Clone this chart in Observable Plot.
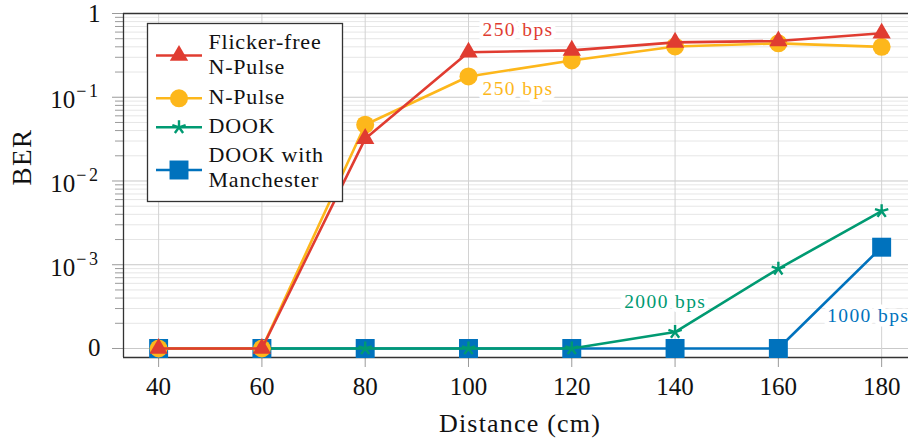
<!DOCTYPE html>
<html><head><meta charset="utf-8">
<script src="https://cdn.jsdelivr.net/npm/d3@7"></script>
<script src="https://cdn.jsdelivr.net/npm/@observablehq/plot@0.6"></script>
<style>
body{margin:0;background:#fff}
#wrap{position:relative;width:908px;height:444px;overflow:hidden}
#legend{position:absolute;left:0;top:0;pointer-events:none}
svg text{font-family:"Liberation Serif","Times New Roman",serif}
</style></head><body><div id="wrap"></div>
<script>
// ---- data ----
const distance = [40, 60, 80, 100, 120, 140, 160, 180];
const seriesNames = ["Flicker-free N-Pulse", "N-Pulse", "DOOK", "DOOK with Manchester"];
const berFlickerFree = [0, 0, 0.032, 0.345, 0.363, 0.452, 0.47, 0.58];
const berNPulse = [0, 0, 0.047, 0.177, 0.275, 0.404, 0.44, 0.40];
const berDOOK = [0, 0, 0, 0, 0, 1.57e-4, 8.95e-4, 4.36e-3];
const berDOOKManchester = [0, 0, 0, 0, 0, 0, 0, 1.62e-3];
const xTicks = [40, 60, 80, 100, 120, 140, 160, 180];
const yTicks = [1e-4, 1e-3, 1e-2, 1e-1, 1];
const yTickLabels = ["0", "10^-3", "10^-2", "10^-1", "1"];
const minorDecades = [1e-4, 1e-3, 1e-2, 1e-1];
const minorMultipliers = [2, 3, 4, 5, 6, 7, 8, 9];
const annoText = ["250 bps", "250 bps", "2000 bps", "1000 bps"];
const annoSeries = [0, 1, 2, 3];
const annoX = [109.6, 109.6, 138.1, 177.4];
const annoY = [0.546, 0.107, 3.06e-4, 2.06e-4];
const ZERO = 1e-4; // BER = 0 is drawn at this position of the log axis

// ---- styles ----
const seriesColors = ["#e03c31", "#fdb71b", "#009a72", "#0072bd"];
const FONT = "Liberation Serif";

const star5 = {
  draw(ctx, size) {
    const r = Math.sqrt(size / Math.PI);
    for (let i = 0; i < 5; i++) {
      const a = 2 * Math.PI * i / 5;
      ctx.moveTo(0, 0);
      ctx.lineTo(r * Math.sin(a), -r * Math.cos(a));
    }
  }
};
const symbols = ["triangle", "circle", star5, "square"];
const symR = [6.8, 9, 7, 10.7];

const allSeries = [berFlickerFree, berNPulse, berDOOK, berDOOKManchester];
const rows = allSeries.map((vals, s) =>
  distance.map((d, i) => ({distance: d, ber: vals[i], pos: vals[i] === 0 ? ZERO : vals[i], s})));
const minorTicks = minorDecades.flatMap(d => minorMultipliers.map(m => m * d));
const annos = annoText.map((t, i) => ({text: t, x: annoX[i], y: annoY[i], s: annoSeries[i]}));

const xDomain = [33.2, 185.2];
const yDomain = [Math.pow(10, -4.1075), 1];

const drawOrder = [3, 2, 1, 0];
const seriesMarks = drawOrder.flatMap(s => [
  Plot.line(rows[s], {x: "distance", y: "pos", stroke: seriesColors[s], strokeWidth: 2.6, strokeLinejoin: "round"}),
  s === 2
    ? Plot.dot(rows[s], {x: "distance", y: "pos", symbol: symbols[s], r: symR[s], fill: "none", stroke: seriesColors[s], strokeWidth: 2.4})
    : Plot.dot(rows[s], {x: "distance", y: "pos", symbol: symbols[s], r: symR[s], fill: seriesColors[s], stroke: "none"})
]);

const fmtY = v => yTickLabels[yTicks.findIndex(t => Math.abs(t - v) / t < 1e-6)];

const chart = Plot.plot({
  width: 908, height: 444,
  marginLeft: 123, marginRight: 0, marginTop: 13, marginBottom: 87,
  style: {fontFamily: FONT, fontSize: "22px", background: "white", color: "#111", overflow: "visible"},
  x: {type: "linear", domain: xDomain},
  y: {type: "log", domain: yDomain},
  marks: [
    Plot.gridY(minorTicks, {stroke: "#e6e6e6", strokeOpacity: 1}),
    Plot.gridY(yTicks, {stroke: "#c9c9c9", strokeOpacity: 1}),
    Plot.gridX(xTicks, {stroke: "#d2d2d2", strokeOpacity: 1}),
    Plot.axisY(minorTicks, {tickSize: 8, tickFormat: () => "", stroke: "#9a9a9a"}),
    Plot.axisY(yTicks, {tickSize: 11, tickPadding: 12, tickFormat: fmtY, stroke: "#9a9a9a", fill: "#111", fontSize: 25, fontFamily: FONT}),
    Plot.axisX(xTicks, {tickSize: 10, tickPadding: 10, tickFormat: d => String(d), stroke: "#9a9a9a", fill: "#111", fontSize: 25, fontFamily: FONT, label: null}),
    Plot.ruleY([yDomain[0]], {stroke: "#333", strokeWidth: 1.3}),
    Plot.ruleY([yDomain[1]], {stroke: "#333", strokeWidth: 1.3}),
    Plot.ruleX([xDomain[0]], {stroke: "#333", strokeWidth: 1.3}),
    ...seriesMarks,
    Plot.text(annos, {x: "x", y: "y", text: "text", fill: d => seriesColors[d.s], stroke: "white", strokeWidth: 9,
      fontSize: 19.5, fontFamily: FONT, lineAnchor: "bottom", textAnchor: "middle"}),
    Plot.text(["BER"], {frameAnchor: "left", rotate: -90, dx: -101, fontSize: 27, fontFamily: FONT, fill: "#111"}),
    Plot.text(["Distance (cm)"], {frameAnchor: "bottom", dy: 74, dx: 4, fontSize: 26, fontFamily: FONT, fill: "#111"})
  ]
});

// letter spacing to mimic the wider Computer Modern glyphs
const spacing = {"BER": "1.5px", "Distance (cm)": "1.2px"};
d3.select(chart).selectAll("text").each(function() {
  const t = this.textContent;
  if (spacing[t]) this.setAttribute("letter-spacing", spacing[t]);
  else if (/bps$/.test(t)) this.setAttribute("letter-spacing", "1.4px");
});

// superscripts on the y tick labels
d3.select(chart).selectAll('g[aria-label="y-axis tick label"] text').each(function() {
  const t = this.textContent;
  const m = /^10\^(.+)$/.exec(t);
  if (m) {
    const el = d3.select(this);
    el.text(null);
    el.append("tspan").attr("dy", 3).text("10");
    el.append("tspan").attr("dy", -11).attr("dx", 1).attr("font-size", 18).attr("letter-spacing", "2.5px")
      .text(m[1].replace("-", "\u2212"));
  }
});

const wrap = document.getElementById("wrap");
wrap.appendChild(chart);

// ---- legend (overlay) ----
const legend = d3.select(wrap).append("svg").attr("id", "legend")
  .attr("width", 908).attr("height", 444);
legend.append("rect").attr("x", 147.5).attr("y", 23.5).attr("width", 195).attr("height", 178)
  .attr("fill", "white").attr("stroke", "#333").attr("stroke-width", 1.3);
const legendLines = [["Flicker-free", "N-Pulse"], ["N-Pulse"], ["DOOK"], ["DOOK with", "Manchester"]];
const legendMarkerY = [55.5, 98.3, 127.3, 170];
const legendBaselines = [[48.5, 73.5], [103.5], [133], [162, 187]];
seriesNames.forEach((name, s) => {
  const y = legendMarkerY[s];
  legend.append("line").attr("x1", 156).attr("x2", 202).attr("y1", y).attr("y2", y)
    .attr("stroke", seriesColors[s]).attr("stroke-width", 2.6);
  const sym = d3.symbol(s === 0 ? d3.symbolTriangle : s === 1 ? d3.symbolCircle : s === 2 ? star5 : d3.symbolSquare,
    Math.PI * symR[s] * symR[s]);
  const p = legend.append("path").attr("d", sym()).attr("transform", `translate(179,${y})`);
  if (s === 2) p.attr("fill", "none").attr("stroke", seriesColors[s]).attr("stroke-width", 2.4);
  else p.attr("fill", seriesColors[s]);
  legendLines[s].forEach((line, k) => {
    legend.append("text").attr("x", 208.5).attr("y", legendBaselines[s][k]).attr("font-size", 22)
      .attr("font-family", FONT).attr("letter-spacing", "0.8px").attr("fill", "#111").text(line);
  });
});
</script></body></html>
